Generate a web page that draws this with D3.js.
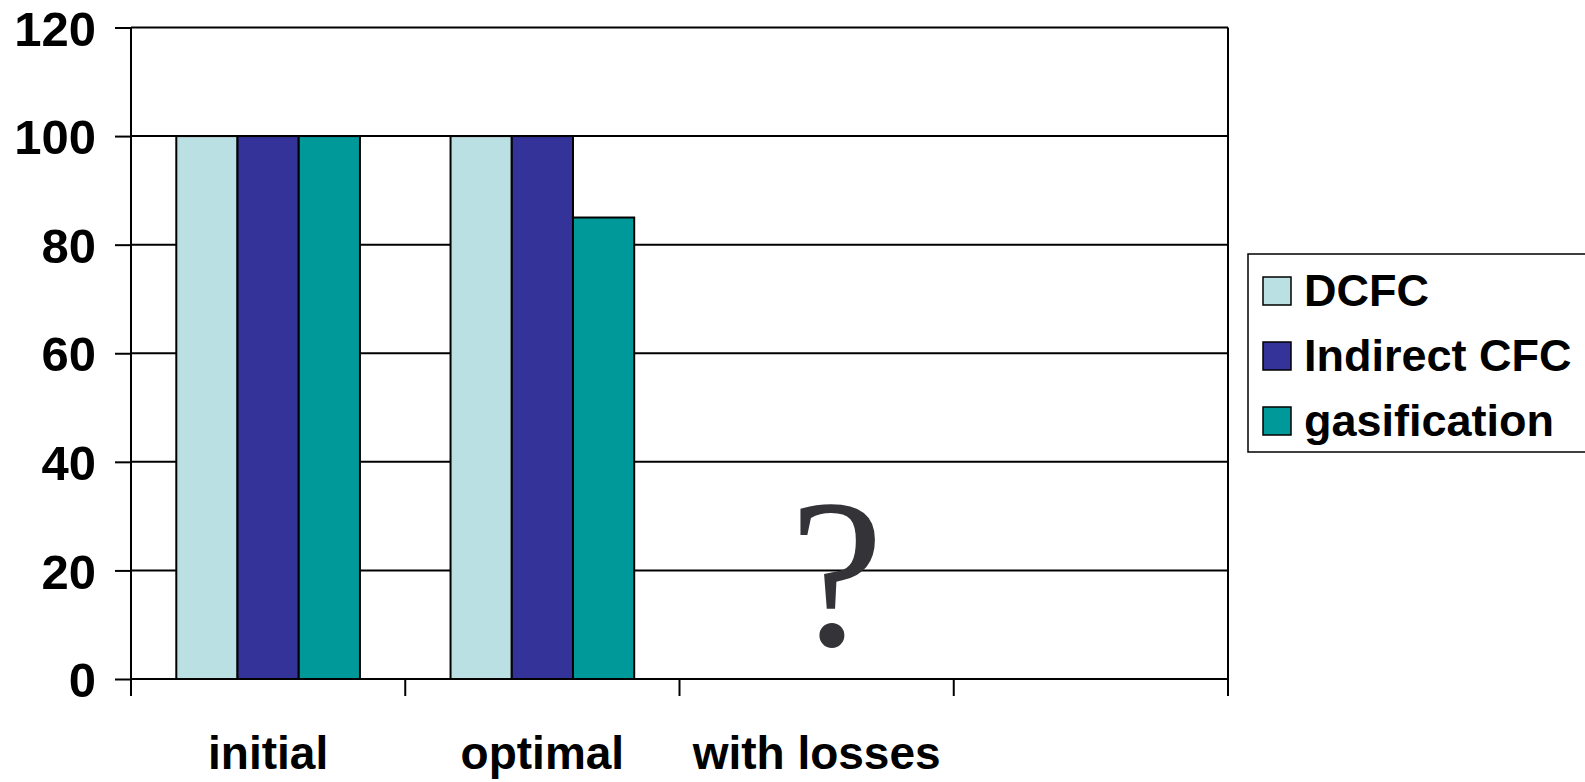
<!DOCTYPE html>
<html>
<head>
<meta charset="utf-8">
<script src="https://cdn.jsdelivr.net/npm/d3@7/dist/d3.min.js"></script>
<style>
  html, body { margin: 0; padding: 0; background: #fff; overflow: hidden; }
  text { font-family: "Liberation Sans", Arial, sans-serif; font-weight: bold; }
</style>
</head>
<body>
<svg id="chart" width="1585" height="782"></svg>
<script>
const categories = ["initial", "optimal", "with losses", ""];
const seriesNames = ["DCFC", "Indirect CFC", "gasification"];
const dcfc = [100, 100, null, null];
const indirectCfc = [100, 100, null, null];
const gasification = [100, 85, null, null];
const seriesColors = ["#BBE0E3", "#333399", "#009999"];
const yTicks = [0, 20, 40, 60, 80, 100, 120];
const annotationText = "?";
const annotationCategory = "with losses";

const seriesValues = [dcfc, indirectCfc, gasification];

const svg = d3.select("#chart");
const m = { left: 131, right: 1228, top: 27.5, bottom: 679 };

const x0 = d3.scaleBand().domain(categories).range([m.left, m.right]).paddingInner(0).paddingOuter(0);
const x1 = d3.scaleBand().domain(seriesNames).range([0, x0.bandwidth()]).paddingInner(0).paddingOuter(0.74);
const y = d3.scaleLinear().domain([0, 120]).range([m.bottom, m.top]);

// gridlines
svg.append("g").selectAll("line").data(yTicks.filter(d => d > 0)).join("line")
  .attr("x1", m.left).attr("x2", m.right)
  .attr("y1", d => y(d)).attr("y2", d => y(d))
  .attr("stroke", "#000").attr("stroke-width", 2);

// right border
svg.append("line").attr("x1", m.right).attr("x2", m.right)
  .attr("y1", m.top).attr("y2", m.bottom).attr("stroke", "#000").attr("stroke-width", 2);

// bars
const groups = svg.append("g").selectAll("g").data(categories).join("g")
  .attr("transform", d => `translate(${x0(d)},0)`);
groups.selectAll("rect")
  .data((c, i) => seriesNames.map((s, j) => ({ s, j, v: seriesValues[j][i] })).filter(d => d.v != null))
  .join("rect")
  .attr("x", d => x1(d.s))
  .attr("width", x1.bandwidth())
  .attr("y", d => y(d.v))
  .attr("height", d => y(0) - y(d.v))
  .attr("fill", d => seriesColors[d.j])
  .attr("stroke", "#000").attr("stroke-width", 2);

// y axis
const yAxis = svg.append("g").attr("transform", `translate(${m.left},0)`)
  .call(d3.axisLeft(y).tickValues(yTicks).tickSize(16).tickPadding(19).tickFormat(d3.format("d")));
yAxis.select(".domain").attr("stroke", "#000").attr("stroke-width", 2).attr("d", `M0,${m.top}V${m.bottom + 17}`);
yAxis.selectAll(".tick line").attr("stroke", "#000").attr("stroke-width", 2);
yAxis.selectAll(".tick text").attr("font-size", 49).attr("fill", "#000").attr("dy", "0.36em")
  .style("font-family", "'Liberation Sans', Arial, sans-serif").style("font-weight", "bold");

// x axis with ticks at category boundaries
const bounds = categories.map(c => x0(c)).concat([m.right]);
const xAxisG = svg.append("g");
xAxisG.append("line").attr("x1", m.left).attr("x2", m.right).attr("y1", y(0)).attr("y2", y(0))
  .attr("stroke", "#000").attr("stroke-width", 2);
xAxisG.selectAll("line.tk").data(bounds).join("line").attr("class", "tk")
  .attr("x1", d => d).attr("x2", d => d).attr("y1", y(0)).attr("y2", y(0) + 17)
  .attr("stroke", "#000").attr("stroke-width", 2);
xAxisG.selectAll("text").data(categories.filter(c => c)).join("text")
  .attr("x", d => x0(d) + x0.bandwidth() / 2)
  .attr("y", 769)
  .attr("text-anchor", "middle")
  .attr("font-size", 46)
  .attr("fill", "#000")
  .text(d => d);

// annotation
svg.append("text")
  .attr("x", x0(annotationCategory) + x0.bandwidth() / 2 + 20)
  .attr("y", 645)
  .attr("text-anchor", "middle")
  .style("font-family", "'Liberation Serif', 'Times New Roman', serif")
  .style("font-weight", "normal")
  .attr("font-size", 212)
  .attr("fill", "#333338")
  .text(annotationText);

// legend
const lg = svg.append("g");
lg.append("rect").attr("x", 1248).attr("y", 254).attr("width", 400).attr("height", 198)
  .attr("fill", "#fff").attr("stroke", "#000").attr("stroke-width", 1.5);
const items = lg.selectAll("g.item").data(seriesNames).join("g").attr("class", "item")
  .attr("transform", (d, i) => `translate(0,${i * 65})`);
items.append("rect").attr("x", 1263).attr("y", 277).attr("width", 28).attr("height", 28)
  .attr("fill", (d, i) => seriesColors[i]).attr("stroke", "#000").attr("stroke-width", 1.5);
items.append("text").attr("x", 1304).attr("y", 306).attr("font-size", 45).attr("fill", "#000")
  .text(d => d);
</script>
</body>
</html>
